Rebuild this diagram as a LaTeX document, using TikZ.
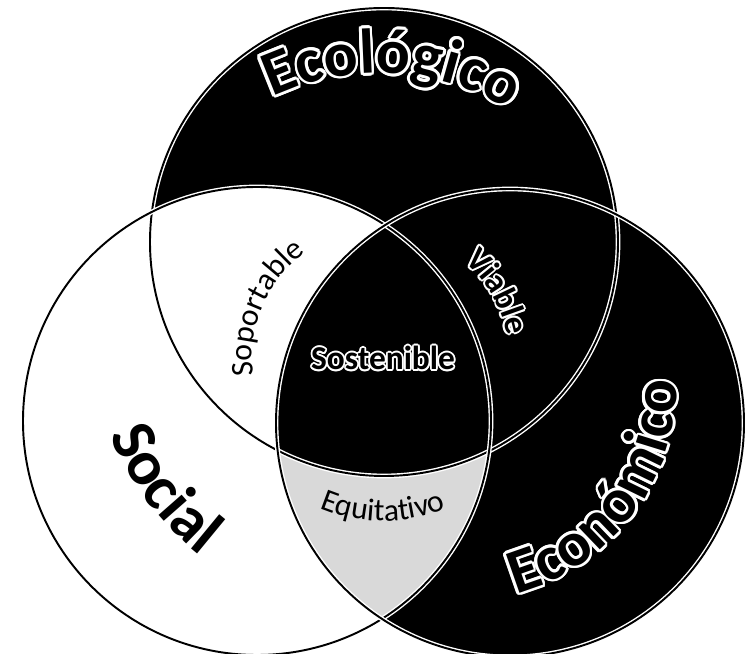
\documentclass[tikz,border=0pt]{standalone}
\usepackage{fontspec}
\setmainfont{Carlito}
\usetikzlibrary{decorations.text}
\newcommand\bigfont{\fontsize{36}{36}\selectfont\bfseries}
\newcommand\midfont{\fontsize{19}{19}\selectfont\bfseries}
\newcommand\lowfont{\fontsize{18}{18}\selectfont}
\def\rr{4.68}
\tikzset{
  ring/.style={draw=white, double=black, line width=0.8pt, double distance=1.1pt},
  arctext/.style 2 args={decorate, decoration={text along path, text align=center,
    text color=#1, text={#2}}},
}
\begin{document}
\begin{tikzpicture}
  \useasboundingbox (0,0) rectangle (15.04,13.08);
  % circle centres
  \coordinate (eco) at (7.68,8.24);
  \coordinate (soc) at (5.14,4.66);
  \coordinate (ecn) at (10.20,4.62);
  \coordinate (mid) at (7.66,5.92);
  % fills
  \fill[black] (eco) circle (\rr);
  \fill[black] (ecn) circle (\rr);
  \fill[white] (soc) circle (\rr);
  \begin{scope}
    \clip (soc) circle (\rr);
    \clip (ecn) circle (\rr);
    \fill[gray!30] (ecn) circle (\rr);
    \clip (eco) circle (\rr);
    \fill[black] (eco) circle (\rr);
  \end{scope}
  % outlines
  \foreach \c in {eco,soc,ecn} \draw[ring] (\c) circle (\rr);
  % big labels
  \coordinate (ecoarc) at (7.58,6.62);
  \coordinate (ecnarc) at (9.18,5.40);
  \coordinate (socarc) at (7.58,6.54);
  \foreach \a in {0,20,...,340} {
    \path[arctext={white}{|\bigfont|Ecológico}]
      ([shift={(\a:1.5pt)}]ecoarc) ++(122:5) arc[start angle=122, end angle=52, radius=5];
    \path[arctext={white}{|\bigfont|Económico}]
      ([shift={(\a:1.5pt)}]ecnarc) ++(280:4.35) arc[start angle=280, end angle=366, radius=4.35];
  }
  \path[arctext={black}{|\bigfont|Ecológico}]
    (ecoarc) ++(122:5) arc[start angle=122, end angle=52, radius=5];
  \path[arctext={black}{|\bigfont|Económico}]
    (ecnarc) ++(280:4.35) arc[start angle=280, end angle=366, radius=4.35];
  \path[arctext={black}{|\bigfont|Social}]
    (socarc) ++(190:5.8) arc[start angle=190, end angle=244, radius=5.8];
  % small labels
  \foreach \a in {0,30,...,330} {
    \node[text=white, font=\midfont] at ([shift={(\a:1pt)}]mid) {Sostenible};
    \path[arctext={white}{|\midfont|Viable}]
      ([shift={(\a:1pt)}]mid) ++(62:2.52) arc[start angle=62, end angle=-2, radius=2.52];
  }
  \node[font=\midfont] (sostlab) at (mid) {Sostenible};
  \path[arctext={black}{|\midfont|Viable}]
    (mid) ++(62:2.52) arc[start angle=62, end angle=-2, radius=2.52];
  \path[arctext={black}{|\lowfont|Soportable}]
    (mid) ++(194:2.62) arc[start angle=194, end angle=120, radius=2.62];
  \path[arctext={black}{|\lowfont|Equitativo}]
    (mid) ++(230:3.26) arc[start angle=230, end angle=310, radius=3.26];
\end{tikzpicture}
\end{document}
